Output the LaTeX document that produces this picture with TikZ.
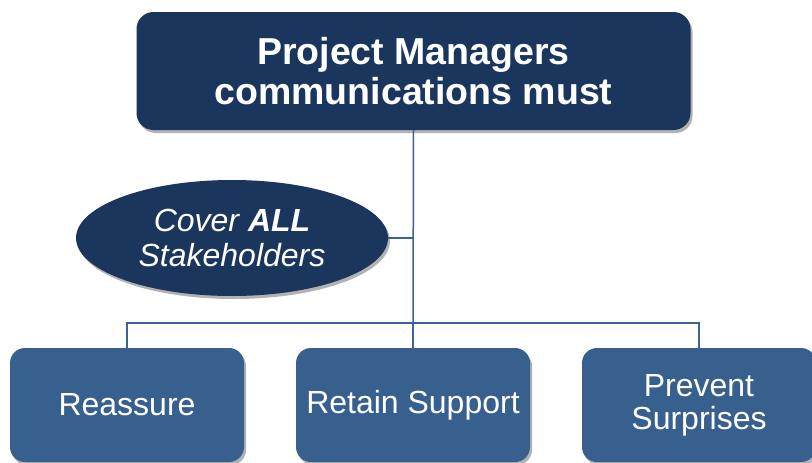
\documentclass[tikz,border=0pt]{standalone}
\usepackage{fontspec}
\setmainfont{Liberation Sans}
\usetikzlibrary{shapes.geometric,shadows}
\definecolor{navy}{HTML}{1B365D}
\definecolor{midblue}{HTML}{37608F}
\definecolor{linkblue}{HTML}{3A6496}
\tikzset{
  shad/.style={drop shadow={shadow xshift=2pt,shadow yshift=-3pt,opacity=0.3,fill=black}},
  titlebox/.style={shad,fill=navy,rounded corners=17pt,text=white,font=\fontsize{37.5}{40}\selectfont\bfseries,align=center,inner sep=0pt},
  ellnode/.style={shad,ellipse,fill=navy,text=white,font=\fontsize{32}{35}\selectfont\itshape,align=center,inner sep=0pt},
  leaf/.style={shad,fill=midblue,rounded corners=15pt,text=white,font=\fontsize{32}{33}\selectfont,align=center,inner sep=0pt,minimum width=234pt,minimum height=114pt},
  conn/.style={draw=linkblue,line width=1.5pt}
}
\begin{document}
\begin{tikzpicture}[x=1pt,y=-1pt]
\useasboundingbox (0,0) rectangle (812,463);
\clip (0,0) rectangle (812,463);
\fill[white] (0,0) rectangle (812,463);
\node[titlebox,minimum width=554pt,minimum height=118pt] (top) at (413.5,71) {Project Managers\\communications must};
\node[ellnode,minimum width=312pt,minimum height=116pt] (ell) at (232,238) {Cover \textbf{ALL}\\Stakeholders};
\node[leaf] (b1) at (127,405) {Reassure};
\node[leaf] (b2) at (413,405) {Retain Support};
\node[leaf] (b3) at (699,405) {Prevent\\Surprises};
\coordinate (bar) at (413,323);
\draw[conn] (top.south) -- (bar);
\draw[conn] (ell.east) -- (ell.east -| top.south);
\draw[conn] (b1.north) |- (bar) -| (b3.north);
\draw[conn] (bar) -- (b2.north);
\end{tikzpicture}
\end{document}
